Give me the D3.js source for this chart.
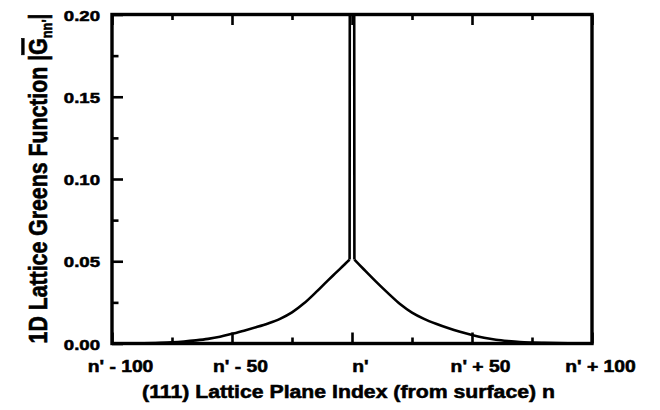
<!DOCTYPE html>
<html>
<head>
<meta charset="utf-8">
<script src="https://cdn.jsdelivr.net/npm/d3@7/dist/d3.min.js"></script>
<style>
  html, body { margin: 0; padding: 0; background: #fff; }
  svg { display: block; }
  text { font-family: "Liberation Sans", Arial, Helvetica, sans-serif; font-weight: bold; fill: #000; stroke: #000; stroke-width: 0.55px; }
</style>
</head>
<body>
<svg id="chart" width="660" height="410"></svg>
<script>
// ---- data ----
const planeIndex = [-100,-90,-80,-75,-70,-65,-60,-55,-50,-45,-40,-35,-30,-25,-20,-15,-10,-7,-5,-3,-2,-1,0,
                    1,2,3,5,7,10,15,20,25,30,35,40,45,50,55,60,65,70,75,80,90,100];
const greensValue = [0.0000,0.0001,0.0004,0.0007,0.0012,0.0019,0.0028,0.0041,0.0059,0.0078,0.0099,0.0122,0.0150,0.0189,0.0244,0.0312,0.0384,0.0426,0.0454,0.0482,0.0496,0.0510,2.0,
                     0.0510,0.0495,0.0480,0.0450,0.0420,0.0376,0.0306,0.0240,0.0188,0.0150,0.0120,0.0094,0.0071,0.0051,0.0035,0.0023,0.0015,0.0009,0.0006,0.0004,0.0001,0.0000];
const xMajorTicks = [-100,-50,0,50,100];
const xTickLabels = ["n' - 100","n' - 50","n'","n' + 50","n' + 100"];
const xMinorTicks = [-75,-25,25,75];
const yMajorTicks = [0,0.05,0.10,0.15,0.20];
const yTickLabels = ["0.00","0.05","0.10","0.15","0.20"];
const yMinorTicks = [0.025,0.075,0.125,0.175];
const xTitle = "(111) Lattice Plane Index (from surface) n";
const yTitleMain = "1D Lattice Greens Function |";

const svg = d3.select("#chart");
const L = 112, R = 592, T = 14.5, B = 343.5;
const STRETCH = 1.17; // horizontal stretch of the original figure
const x = d3.scaleLinear().domain([-100,100]).range([L,R]);
const y = d3.scaleLinear().domain([0,0.2]).range([B,T]);

// clip
svg.append("clipPath").attr("id","clip").append("rect")
  .attr("x",L).attr("y",T).attr("width",R-L).attr("height",B-T);

const pts = planeIndex.map((n,i)=>({n, g: greensValue[i]}));
const leftPts = pts.filter(p=>p.n<=-1);
const rightPts = pts.filter(p=>p.n>=1);
const spikePts = pts.filter(p=>p.n>=-1 && p.n<=1);

const smooth = d3.line().x(p=>x(p.n)).y(p=>y(p.g)).curve(d3.curveMonotoneX);
const straight = d3.line().x(p=>x(p.n)).y(p=>y(p.g)).curve(d3.curveLinear);
const curveG = svg.append("g").attr("clip-path","url(#clip)")
  .attr("fill","none").attr("stroke","#000").attr("stroke-width",2.6);
curveG.append("path").attr("d", smooth(leftPts)).attr("stroke-linejoin","round");
curveG.append("path").attr("d", smooth(rightPts)).attr("stroke-linejoin","round");
curveG.append("path").attr("d", straight(spikePts)).attr("stroke-linejoin","miter").attr("stroke-miterlimit",100);

function styleAxis(g){
  g.select(".domain").remove();
  g.selectAll(".tick line").attr("stroke","#000").attr("stroke-width",2.6);
}

// bottom major
const bx = svg.append("g").attr("transform",`translate(0,${B})`)
  .call(d3.axisBottom(x).tickValues(xMajorTicks).tickSize(-11).tickFormat((d,i)=>xTickLabels[i]));
styleAxis(bx);
bx.selectAll(".tick text")
  .attr("y",0).attr("dy",0)
  .attr("transform",`translate(8,28) scale(${STRETCH},1)`)
  .style("font-size","16.5px").attr("text-anchor","middle");
// bottom minor
const bxm = svg.append("g").attr("transform",`translate(0,${B})`)
  .call(d3.axisBottom(x).tickValues(xMinorTicks).tickSize(-6).tickFormat(""));
styleAxis(bxm);
// top major/minor
const tx = svg.append("g").attr("transform",`translate(0,${T})`)
  .call(d3.axisTop(x).tickValues(xMajorTicks).tickSize(-10.5).tickFormat(""));
styleAxis(tx);
const txm = svg.append("g").attr("transform",`translate(0,${T})`)
  .call(d3.axisTop(x).tickValues(xMinorTicks).tickSize(-5.5).tickFormat(""));
styleAxis(txm);

// left major
const ly = svg.append("g").attr("transform",`translate(${L},0)`)
  .call(d3.axisLeft(y).tickValues(yMajorTicks).tickSize(-11).tickFormat((d,i)=>yTickLabels[i]));
styleAxis(ly);
ly.selectAll(".tick text")
  .attr("x",0).attr("dy",0)
  .attr("transform","translate(-12,5.5) scale(1.2,1)")
  .style("font-size","15.5px").attr("text-anchor","end");
const lym = svg.append("g").attr("transform",`translate(${L},0)`)
  .call(d3.axisLeft(y).tickValues(yMinorTicks).tickSize(-6.5).tickFormat(""));
styleAxis(lym);

// frame
svg.append("rect").attr("x",L).attr("y",T).attr("width",R-L).attr("height",B-T)
  .attr("fill","none").attr("stroke","#000").attr("stroke-width",3.4);

// x title
const xt = svg.append("text")
  .attr("text-anchor","middle")
  .style("font-size","18.5px")
  .text(xTitle);
const xtw = xt.node().getComputedTextLength();
const xs = 413 / xtw;
xt.attr("transform",`translate(348.5,398) scale(${xs},1)`);

// y title
const yt = svg.append("text")
  .attr("text-anchor","middle")
  .style("font-size","21.5px");
yt.append("tspan").text(yTitleMain);
yt.append("tspan").text("G").style("text-decoration","overline");
yt.append("tspan").text("nn'").style("font-size","13px").attr("dy",5);
yt.append("tspan").text("|").attr("dy",-5);
const ytw = yt.node().getComputedTextLength();
const ys = 330 / ytw;
yt.attr("transform",`translate(46.5,178.5) scale(${STRETCH},1) rotate(-90) scale(${ys},1)`);
</script>
</body>
</html>
